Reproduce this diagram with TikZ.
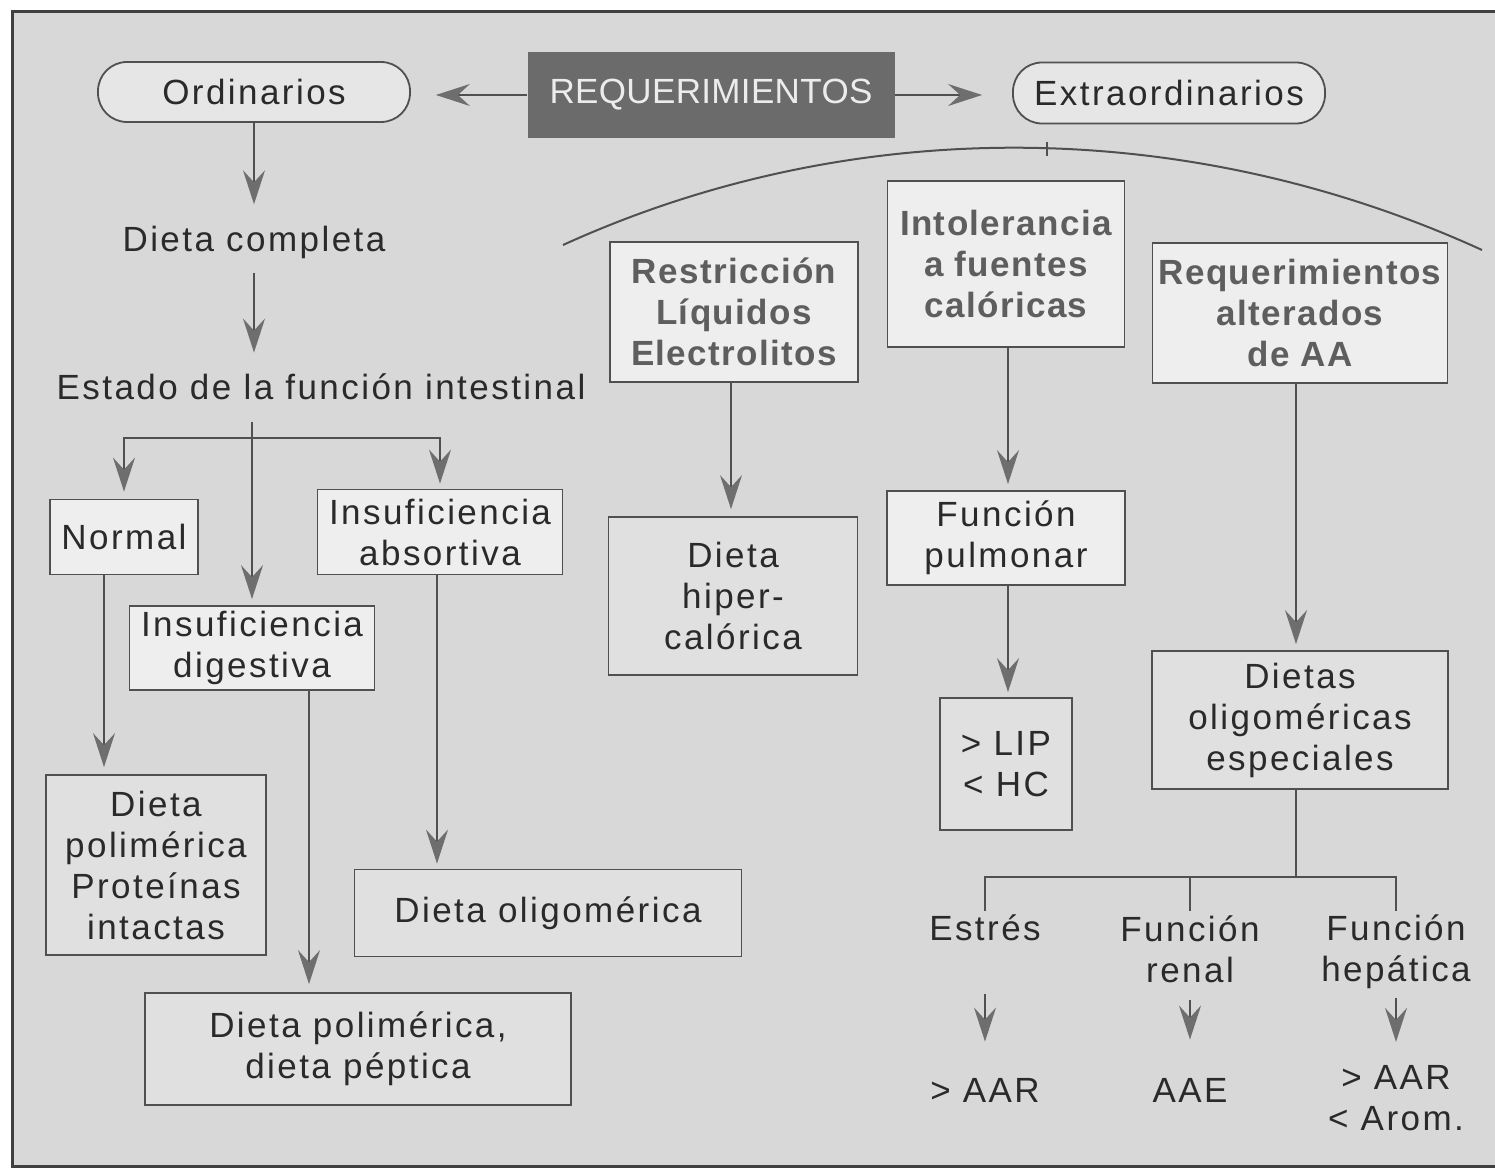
\documentclass[tikz,border=0pt]{standalone}
\usepackage{fontspec}
\setmainfont{Liberation Sans}[LetterSpace=7, BoldFeatures={LetterSpace=4}]
\usetikzlibrary{arrows.meta,calc}
\definecolor{bg}{HTML}{D8D8D8}
\definecolor{wbox}{HTML}{EEEEEE}
\definecolor{gbox}{HTML}{E0E0E0}
\definecolor{rbox}{HTML}{E6E6E6}
\definecolor{ln}{HTML}{505050}
\definecolor{tx}{HTML}{2A2A2A}
\definecolor{btx}{HTML}{5E5E5E}
\definecolor{ah}{HTML}{6E6E6E}
\definecolor{reqc}{HTML}{6B6B6B}
\definecolor{reqt}{HTML}{ECECEC}
\definecolor{frame}{HTML}{404040}
\begin{document}
\begin{tikzpicture}[x=0.5pt,y=-0.5pt,
  every node/.style={font=\fontsize{17.5}{20.5}\selectfont, text=tx, inner sep=0pt, align=center},
  box/.style={draw=ln, line width=0.9pt},
  wb/.style={box, fill=wbox},
  gb/.style={box, fill=gbox},
  sz/.style 2 args={minimum width=#1*0.5pt, minimum height=#2*0.5pt},
  bold/.style={font=\fontsize{17.5}{20.5}\selectfont\bfseries, text=btx},
  rnd/.style={box, fill=rbox, rounded corners=14.5pt},
  lin/.style={draw=ln, line width=1pt},
  arr/.style={lin, -{Stealth[length=17pt,width=11pt,inset=6pt,color=ah]}}
]
\useasboundingbox (0,0) rectangle (1495,1171);
\fill[white] (0,0) rectangle (1495,1171);
\draw[line width=1.5pt, draw=frame, fill=bg] (12,12) rectangle (1520,1166);

% top row
\node[rnd, sz={312}{60}] (ord) at (254,92) {Ordinarios};
\node[fill=reqc, text=reqt, sz={367}{86}, font=\fontsize{17.5}{20.5}\selectfont\addfontfeatures{LetterSpace=1}] (req) at (711,95) {REQUERIMIENTOS};
\node[rnd, sz={312}{61}] (ext) at (1169,93) {Extraordinarios};
\draw[arr, shorten >=12.5pt] (req.west) -- (req.west -| ord.east);
\draw[arr, shorten >=15pt] (req.east) -- (req.east -| ext.west);

% left column
\node (dc) at (254,242) {Dieta completa};
\node (est) at (321,387) {Estado de la función intestinal};
\node[wb, sz={148}{75}] (normal) at (124,537) {Normal};
\node[wb, sz={245}{85}] (insabs) at (440,532) {Insuficiencia\\absortiva};
\node[wb, sz={245}{84}] (insdig) at (252,648) {Insuficiencia\\digestiva};
\node[gb, sz={220}{180}] (dpp) at (156,865) {Dieta\\polimérica\\Proteínas\\intactas};
\node[gb, sz={426}{112}] (dpep) at (358,1049) {Dieta polimérica,\\dieta péptica};
\node[gb, sz={387}{87}] (dolig) at (548,913) {Dieta oligomérica};
\coordinate (br) at (252,438);

\draw[arr, shorten >=10.5pt] (ord.south) -- (ord.south |- dc.north);
\draw[arr, shorten <=7pt, shorten >=10.5pt] (dc.south) -- (dc.south |- est.north);
\draw[arr, shorten <=11pt, shorten >=3pt] (est.south -| insdig.north) -- (insdig.north);
\draw[arr, shorten >=3.5pt] (br) -| (normal.north);
\draw[arr, shorten >=2.5pt] (br) -| (insabs.north);
\draw[arr, shorten >=3.5pt] ([xshift=-10pt]normal.south) -- ([xshift=-10pt]normal.south |- dpp.north);
\draw[arr, shorten >=4pt] ([xshift=28.5pt]insdig.south) -- ([xshift=28.5pt]insdig.south |- dpep.north);
\draw[arr, shorten >=2.5pt] ([xshift=-1.5pt]insabs.south) -- ([xshift=-1.5pt]insabs.south |- dolig.north);

% arc
\coordinate (arcL) at (563,245);
\coordinate (arcR) at (1482,250);
\coordinate (tk1) at (1047,142);
\coordinate (tk2) at (1047,156);
\draw[lin] (arcL) .. controls (855,112) and (1191,117) .. (arcR);
\draw[lin, line width=0.6pt] (tk1) -- (tk2);

% right part
\node[wb, bold, sz={248}{140}] (restr) at (734,312) {Restricción\\Líquidos\\Electrolitos};
\node[wb, bold, sz={237}{166}] (intol) at (1006,264) {Intolerancia\\a fuentes\\calóricas};
\node[wb, bold, sz={295}{140}] (reqaa) at (1300,313) {Requerimientos\\alterados\\de AA};
\node[gb, sz={249}{158}] (hiper) at (733,596) {Dieta\\hiper-\\calórica};
\node[wb, sz={238}{94}] (pulm) at (1006,538) {Función\\pulmonar};
\node[gb, sz={132}{132}] (lip) at (1006,764) {> LIP\\< HC};
\node[gb, sz={296}{138}] (dolesp) at (1300,720) {Dietas\\oligoméricas\\especiales};

\draw[arr, shorten >=3.5pt] ([xshift=-1.5pt]restr.south) -- ([xshift=-1.5pt]restr.south |- hiper.north);
\draw[arr, shorten >=3pt] ([xshift=1pt]intol.south) -- ([xshift=1pt]intol.south |- pulm.north);
\draw[arr, shorten >=2.5pt] ([xshift=1pt]pulm.south) -- ([xshift=1pt]pulm.south |- lip.north);
\draw[arr, shorten >=3pt] ([xshift=-2pt]reqaa.south) -- ([xshift=-2pt]reqaa.south |- dolesp.north);

\node (estres) at (985,928) {Estrés};
\node (renal) at (1190,949) {Función\\renal};
\node (hep) at (1396,952) {Función\\hepática};
\node (r1) at (985,1090) {> AAR};
\node (r2) at (1190,1090) {AAE};
\node (r3) at (1396,1098) {> AAR\\< Arom.};
\coordinate (br2) at (1296,877);

\draw[lin] ([xshift=-2pt]dolesp.south) -- (br2);
\draw[lin, shorten >=2pt] (br2) -| (estres.north);
\draw[lin, shorten >=2pt] (br2) -| (hep.north);
\draw[lin, shorten >=2pt] (renal.north |- br2) -- (renal.north);
\draw[arr, shorten <=26.5pt, shorten >=18pt] (estres.south) -- (r1.north);
\draw[arr, shorten <=8.5pt, shorten >=19pt] (renal.south) -- (r2.north);
\draw[arr, shorten <=4.5pt, shorten >=11.5pt] (hep.south) -- (r3.north);
\end{tikzpicture}
\end{document}
